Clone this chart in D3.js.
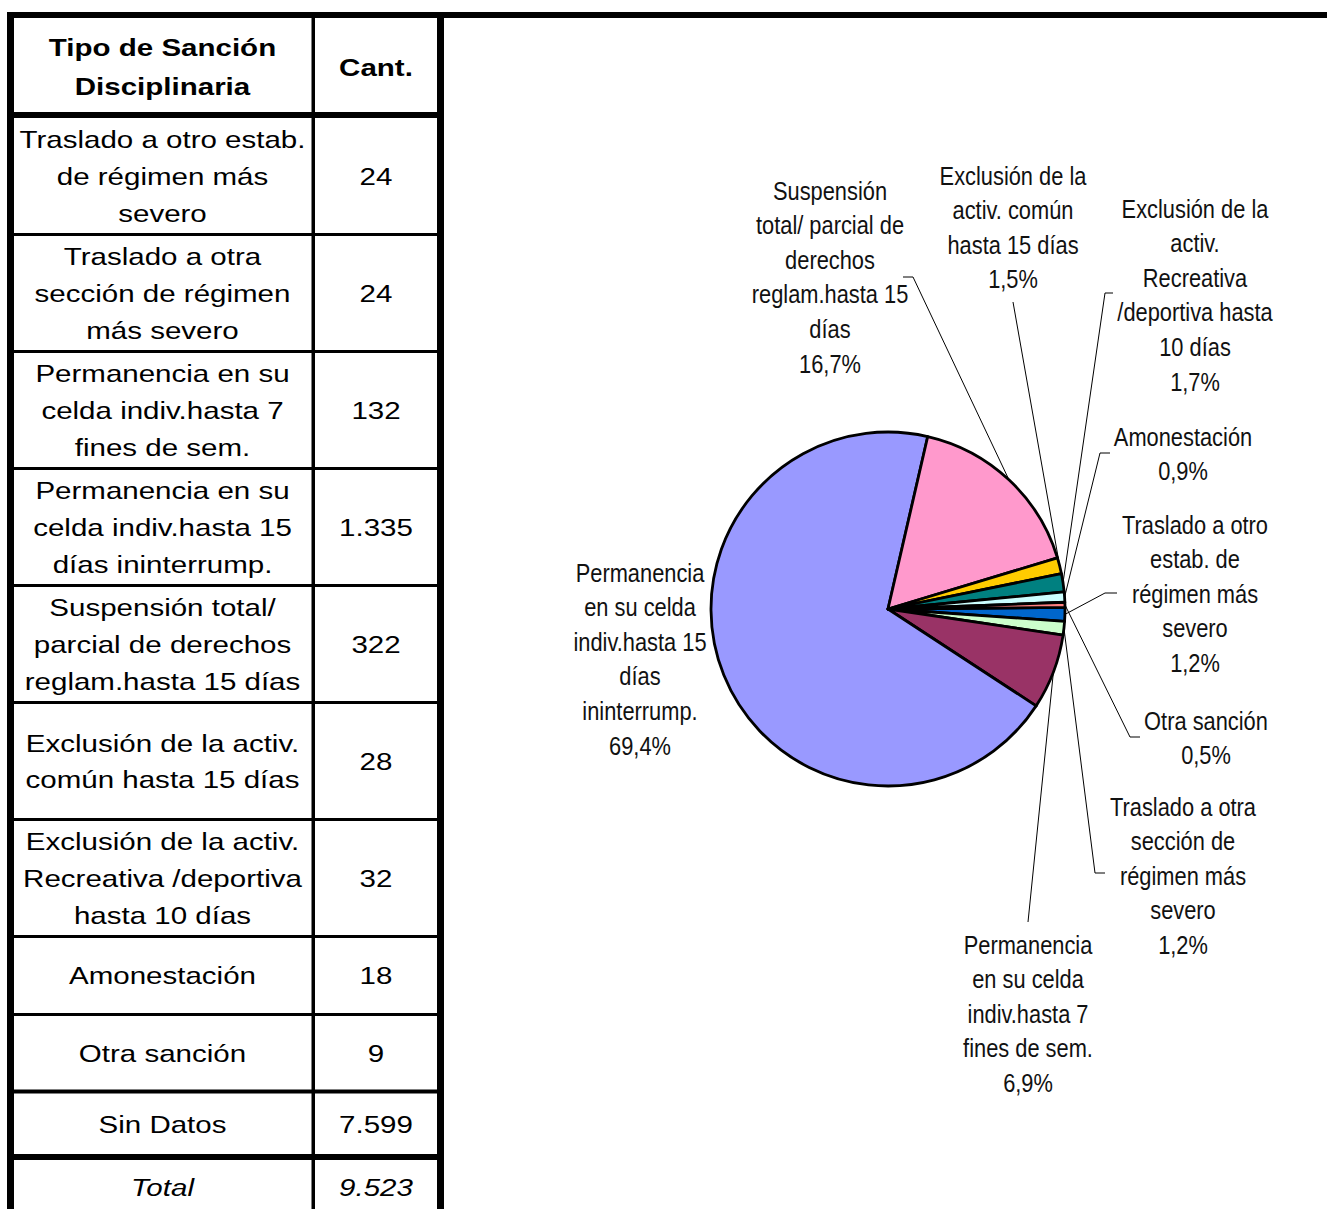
<!DOCTYPE html>
<html>
<head>
<meta charset="utf-8">
<script src="https://cdn.jsdelivr.net/npm/d3@7"></script>
<style>
  body { margin: 0; background: #fff; }
  svg { display: block; }
</style>
</head>
<body>
<svg id="chart" width="1327" height="1209"></svg>
<script>
// --- data ---
const categories = [
  'Traslado a otro estab. de régimen más severo',
  'Traslado a otra sección de régimen más severo',
  'Permanencia en su celda indiv.hasta 7 fines de sem.',
  'Permanencia en su celda indiv.hasta 15 días ininterrump.',
  'Suspensión total/ parcial de derechos reglam.hasta 15 días',
  'Exclusión de la activ. común hasta 15 días',
  'Exclusión de la activ. Recreativa /deportiva hasta 10 días',
  'Amonestación',
  'Otra sanción',
];
const counts = [24, 24, 132, 1335, 322, 28, 32, 18, 9];
const sinDatosLabel = 'Sin Datos';
const sinDatos = 7599;
const totalLabel = 'Total';
const total = 9523;

// line breaks as they appear in the table cells
const tableLines = [
  ['Traslado a otro estab.', 'de régimen más', 'severo'],
  ['Traslado a otra', 'sección de régimen', 'más severo'],
  ['Permanencia en su', 'celda indiv.hasta 7', 'fines de sem.'],
  ['Permanencia en su', 'celda indiv.hasta 15', 'días ininterrump.'],
  ['Suspensión total/', 'parcial de derechos', 'reglam.hasta 15 días'],
  ['Exclusión de la activ.', 'común hasta 15 días'],
  ['Exclusión de la activ.', 'Recreativa /deportiva', 'hasta 10 días'],
  ['Amonestación'],
  ['Otra sanción'],
];
const headerLines = ['Tipo de Sanción', 'Disciplinaria'];
const headerCount = 'Cant.';

// line breaks of the pie labels
const pieLines = [
  ['Traslado a otro', 'estab. de', 'régimen más', 'severo'],
  ['Traslado a otra', 'sección de', 'régimen más', 'severo'],
  ['Permanencia', 'en su celda', 'indiv.hasta 7', 'fines de sem.'],
  ['Permanencia', 'en su celda', 'indiv.hasta 15', 'días', 'ininterrump.'],
  ['Suspensión', 'total/ parcial de', 'derechos', 'reglam.hasta 15', 'días'],
  ['Exclusión de la', 'activ. común', 'hasta 15 días'],
  ['Exclusión de la', 'activ.', 'Recreativa', '/deportiva hasta', '10 días'],
  ['Amonestación'],
  ['Otra sanción'],
];

const sliceColors = ['#0066CC', '#CCFFCC', '#993366', '#9999FF', '#FF99CC', '#FFCC00', '#008080', '#CCFFFF', '#FF8080'];

// --- layout ---
const tableFont = 'Liberation Sans, Arial, sans-serif';
const pieFont = 'Liberation Sans, Arial, sans-serif';
const col1 = 162.5, col2 = 376;
const rowEdges = [118, 234.5, 351.5, 468.5, 585.5, 702.5, 819.5, 936.5, 1014.5, 1091.5];
const sinDatosRow = [1091.5, 1157];
const totalRow = [1157, 1217];

// pie label anchors: text centre x, first line y, leader elbow and tick end
const labelLayout = [
  { x: 1195, y: 524, elbow: [1105, 593], tick: [1117, 593] },
  { x: 1183, y: 806, elbow: [1095, 873], tick: [1105, 873] },
  { x: 1028, y: 944, elbow: [1028, 922], tick: null },
  { x: 640, y: 572, elbow: null, tick: null },
  { x: 830, y: 190, elbow: [913, 277], tick: [903, 277] },
  { x: 1013, y: 175, elbow: [1013, 302], tick: null },
  { x: 1195, y: 208, elbow: [1105, 293], tick: [1113, 293] },
  { x: 1183, y: 436, elbow: [1100, 453], tick: [1110, 453] },
  { x: 1206, y: 720, elbow: [1130, 737], tick: [1140, 737] },
];

const locale = d3.formatLocale({ decimal: ',', thousands: '.', grouping: [3], currency: ['', ''] });
const fmtCount = locale.format(',d');
const fmtPct = locale.format('.1f');

const svg = d3.select('#chart');

// --- table ---
const tbl = svg.append('g');
const sx = 1.19; // table text is horizontally stretched in the original

function cellText(lines, cx, yTop, yBot, opts = {}) {
  const size = opts.size || 24.8;
  const lh = opts.lh || 36.7;
  const mid = (yTop + yBot) / 2;
  const y0 = mid - (lines.length - 1) * lh / 2;
  lines.forEach((t, i) => {
    tbl.append('text')
      .attr('transform', `translate(${cx},${y0 + i * lh + size * 0.36}) scale(${sx},1)`)
      .attr('text-anchor', 'middle')
      .style('font-family', tableFont)
      .style('font-size', size + 'px')
      .style('font-weight', opts.bold ? 'bold' : 'normal')
      .style('font-style', opts.italic ? 'italic' : 'normal')
      .attr('fill', '#000')
      .text(t);
  });
}

cellText(headerLines, col1, 20, 114, { bold: true, lh: 39 });
cellText([headerCount], col2, 20, 114, { bold: true });

categories.forEach((c, i) => {
  cellText(tableLines[i], col1, rowEdges[i], rowEdges[i + 1]);
  cellText([fmtCount(counts[i])], col2, rowEdges[i], rowEdges[i + 1]);
});
cellText([sinDatosLabel], col1, sinDatosRow[0], sinDatosRow[1]);
cellText([fmtCount(sinDatos)], col2, sinDatosRow[0], sinDatosRow[1]);
cellText([totalLabel], col1, totalRow[0], totalRow[1], { italic: true });
cellText([fmtCount(total)], col2, totalRow[0], totalRow[1], { italic: true });

// borders
const rect = (x, y, w, h) => tbl.append('rect').attr('x', x).attr('y', y).attr('width', w).attr('height', h).attr('fill', '#000');
rect(7, 12, 1320, 6);          // top rule across the page
rect(7, 12, 7, 1197);          // left
rect(311.5, 12, 3.5, 1197);    // column separator
rect(437, 12, 7, 1197);        // right
rect(7, 112, 437, 6);          // under header
rowEdges.slice(1, -1).forEach((y) => rect(7, y - 1.5, 437, 3));
rect(7, 1089.5, 437, 4);
rect(7, 1154, 437, 6);

// --- pie ---
const cx = 888, cy = 609, r = 177;
const sum = d3.sum(counts);
const start = 89.5 * Math.PI / 180;
const pie = d3.pie().sort(null).startAngle(start).endAngle(start + 2 * Math.PI);
const arcs = pie(counts);
const arc = d3.arc().innerRadius(0).outerRadius(r);

const pg = svg.append('g').attr('transform', `translate(${cx},${cy})`);
pg.selectAll('path')
  .data(arcs)
  .join('path')
  .attr('d', arc)
  .attr('fill', (d, i) => sliceColors[i])
  .attr('stroke', '#000')
  .attr('stroke-width', 2.8)
  .attr('stroke-linejoin', 'round');

// leader lines
const lead = svg.append('g').attr('fill', 'none').attr('stroke', '#000').attr('stroke-width', 1);
arcs.forEach((d, i) => {
  const L = labelLayout[i];
  if (!L.elbow) return;
  const a = (d.startAngle + d.endAngle) / 2;
  const p0 = [cx + r * Math.sin(a), cy - r * Math.cos(a)];
  const pts = [p0, L.elbow];
  if (L.tick) pts.push(L.tick);
  lead.append('path').attr('d', d3.line()(pts));
});

// labels (condensed face, drawn by squeezing the regular one)
const lab = svg.append('g')
  .attr('text-anchor', 'middle')
  .style('font-family', pieFont)
  .style('font-size', '26px')
  .attr('fill', '#111');
arcs.forEach((d, i) => {
  const L = labelLayout[i];
  const lines = pieLines[i].concat([fmtPct(counts[i] / sum * 100) + '%']);
  lines.forEach((t, k) => {
    lab.append('text')
      .attr('transform', `translate(${L.x},${L.y + k * 34.6 + 9.5}) scale(0.84,1)`)
      .text(t);
  });
});
</script>
</body>
</html>
